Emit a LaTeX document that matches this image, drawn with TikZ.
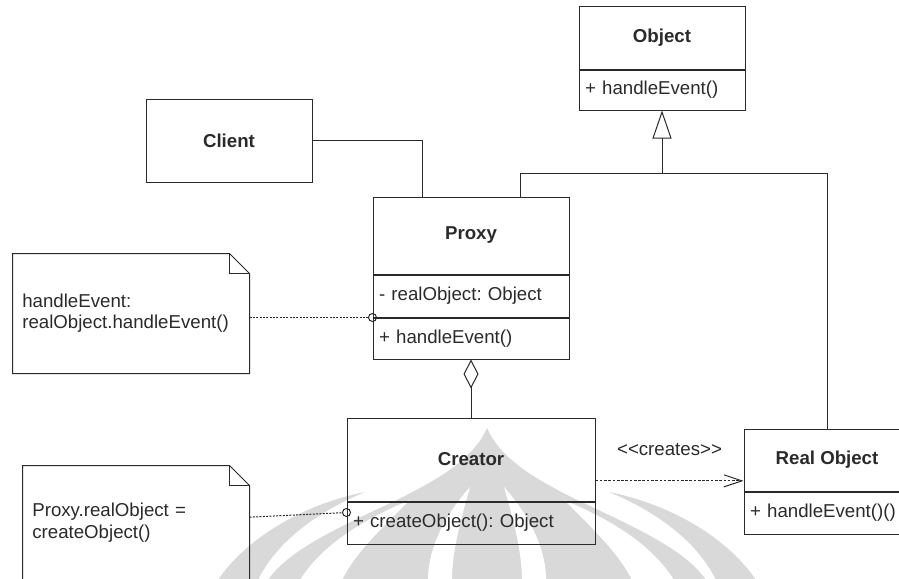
\documentclass[tikz,border=0pt]{standalone}
\usepackage{fontspec}
\setmainfont{Liberation Sans}
\usepackage{tikz}
\usetikzlibrary{positioning,arrows.meta}
\definecolor{umlline}{HTML}{2A2A2A}
\definecolor{wmgrey}{HTML}{D9D9D9}
\newcommand{\umlfont}{\fontsize{14}{16}\selectfont}
\frenchspacing
\tikzset{clsname/.style={draw, font=\umlfont\bfseries, minimum width=#1},
         member/.style={draw, font=\umlfont, align=left, text width=#1, inner xsep=4.5pt},
         note/.style={font=\umlfont, align=left, inner xsep=7pt},
         port/.style={draw, circle, inner sep=0pt, minimum size=6pt},
         link/.style={dash pattern=on 1.5pt off 1pt}}

\begin{document}
\begin{tikzpicture}[x=0.75pt, y=-0.75pt, color=umlline, line width=0.75pt]
    \useasboundingbox (0,0) rectangle (899,578);

    % watermark
    \fill[wmgrey] (218,580) .. controls (245,540) and (300,505) .. (365,492) .. controls (312,514) and (275,545) .. (258,580) -- cycle;
    \fill[wmgrey] (756,580) .. controls (729,540) and (674,505) .. (609,492) .. controls (662,514) and (699,545) .. (716,580) -- cycle;
    \fill[wmgrey] (487,428) .. controls (472,462) and (432,482) .. (397,500) .. controls (332,530) and (287,552) .. (268,580) -- (706,580) .. controls (687,552) and (642,530) .. (577,500) .. controls (542,482) and (502,462) .. (487,428) -- cycle;
    \fill[white] (300,580) .. controls (322,545) and (362,520) .. (410,500) .. controls (382,528) and (356,552) .. (342,580) -- cycle;
    \fill[white] (674,580) .. controls (652,545) and (612,520) .. (564,500) .. controls (592,528) and (618,552) .. (632,580) -- cycle;
    \fill[white] (470,487) .. controls (445,515) and (428,548) .. (428,580) -- (452,580) .. controls (452,550) and (462,515) .. (470,487) -- cycle;
    \fill[white] (504,487) .. controls (529,515) and (546,548) .. (546,580) -- (522,580) .. controls (522,550) and (512,515) .. (504,487) -- cycle;

    % classes
    \node[clsname=124.5pt, minimum height=47.25pt] (objT) at (662,37.5) {Object};
    \node[member=115.5pt, minimum height=30pt, below=0pt of objT] (objM) {+ handleEvent()};

    \node[clsname=124.5pt, minimum height=62.25pt] (client) at (229,140.5) {Client};

    \node[clsname=147pt, minimum height=57.75pt] (pxT) at (471,235.5) {Proxy};
    \node[member=138pt, minimum height=31.5pt, below=0pt of pxT] (pxA) {- realObject: Object};
    \node[member=138pt, minimum height=30.75pt, below=0pt of pxA] (pxM) {+ handleEvent()};

    \node[clsname=186pt, minimum height=62.25pt] (crT) at (471,459.5) {Creator};
    \node[member=177pt, minimum height=31.5pt, below=0pt of crT] (crM) {+ createObject(): Object};

    \node[clsname=124.5pt, minimum height=46.5pt] (roT) at (827,460) {Real Object};
    \node[member=115.5pt, minimum height=31.5pt, below=0pt of roT] (roM) {+ handleEvent()()};

    % notes
    \node[note, text width=163pt, minimum height=89.25pt] (noteA) at (131,313.5) {handleEvent:\\realObject.handleEvent()};
    \node[note, text width=155.5pt, minimum height=84.75pt] (noteB) at (136,522.5) {Proxy.realObject =\\createObject()};
    \foreach \n in {noteA, noteB} {
        \draw (\n.north west) -- ([xshift=-15pt]\n.north east) -- ([yshift=-15pt]\n.north east) -- (\n.south east) -- (\n.south west) -- cycle;
        \draw ([xshift=-15pt]\n.north east) |- ([yshift=-15pt]\n.north east);
    }

    \node[port] (portA) at (pxA.south west) {};
    \node[port] (portB) at ([yshift=-8.25pt]crM.north west) {};
    \draw[link] (noteA.east |- portA) -- (portA);
    \draw[link] ([yshift=4pt]noteB.east) -- (portB);

    % relations
    \coordinate (gen) at ([yshift=-47.25pt]objM.south);
    \draw[-{Triangle[open, length=21pt, width=14.25pt]}] (gen) -- (objM.south);
    \draw ([xshift=36.75pt]pxT.north) |- (gen) -| (roT.north);
    \draw (client.east) -| ([xshift=-36.75pt]pxT.north);
    \draw[{Diamond[open, length=21.75pt, width=11.25pt]}-] (pxM.south) -- (crT.north);

    \coordinate (mk) at ([yshift=-16pt]crT.east);
    \draw[dash pattern=on 2pt off 1.2pt, -{Straight Barb[length=13.5pt, width=9pt]}] (mk) -- (mk -| roT.west)
        node[midway, above=15pt, font=\umlfont] (mkLabel) {<\kern0pt<creates>\kern0pt>};
\end{tikzpicture}
\end{document}
